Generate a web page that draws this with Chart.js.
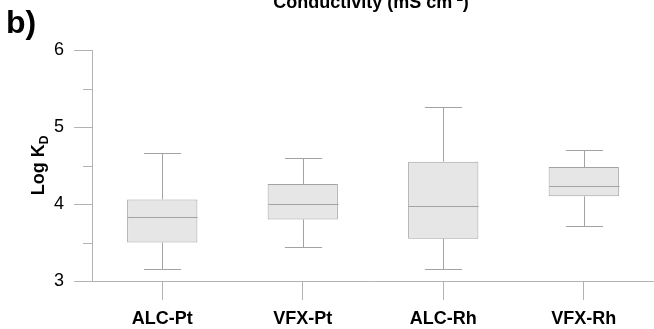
<!DOCTYPE html>
<html>
<head>
<meta charset="utf-8">
<script src="https://cdn.jsdelivr.net/npm/chart.js@4.4.1/dist/chart.umd.min.js"></script>
<style>
html,body{margin:0;padding:0;background:#fff;}
#wrap{width:654px;height:329px;position:relative;}
</style>
</head>
<body>
<div id="wrap"><canvas id="c" width="654" height="329"></canvas></div>
<script>
const categories = ['ALC-Pt', 'VFX-Pt', 'ALC-Rh', 'VFX-Rh'];
const whiskerLow  = [3.16, 3.44, 3.16, 3.71];
const q1          = [3.50, 3.80, 3.55, 4.10];
const median      = [3.83, 4.00, 3.97, 4.24];
const q3          = [4.06, 4.26, 4.55, 4.48];
const whiskerHigh = [4.66, 4.60, 5.26, 4.70];
const yTicks = [3, 4, 5, 6];
const yMinorTicks = [3.5, 4.5, 5.5];

const FONT = '"Liberation Sans", Arial, sans-serif';
const AXIS = '#b3b3b3';
const BOX_LINE = '#a3a3a3';

const boxPlugin = {
  id: 'boxExtras',
  afterDatasetsDraw(chart) {
    const ctx = chart.ctx;
    const x = chart.scales.x, y = chart.scales.y;
    const meta = chart.getDatasetMeta(0);
    ctx.save();
    ctx.strokeStyle = BOX_LINE;
    ctx.lineWidth = 1;
    categories.forEach((c, i) => {
      const cx = Math.round(x.getPixelForValue(i)) + 0.5;
      const bar = meta.data[i];
      const half = bar.width / 2;
      const cap = half * 0.53;
      const yl = Math.round(y.getPixelForValue(whiskerLow[i])) + 0.5;
      const y1 = y.getPixelForValue(q1[i]);
      const ym = Math.round(y.getPixelForValue(median[i])) + 0.5;
      const y3 = y.getPixelForValue(q3[i]);
      const yh = Math.round(y.getPixelForValue(whiskerHigh[i])) + 0.5;
      ctx.beginPath();
      ctx.moveTo(cx, y3); ctx.lineTo(cx, yh);
      ctx.moveTo(cx - cap, yh); ctx.lineTo(cx + cap, yh);
      ctx.moveTo(cx, y1); ctx.lineTo(cx, yl);
      ctx.moveTo(cx - cap, yl); ctx.lineTo(cx + cap, yl);
      ctx.moveTo(cx - half, ym); ctx.lineTo(cx + half, ym);
      ctx.stroke();
    });
    // minor y ticks
    ctx.strokeStyle = AXIS;
    ctx.beginPath();
    yMinorTicks.forEach(v => {
      const py = Math.round(y.getPixelForValue(v)) + 0.5;
      ctx.moveTo(chart.chartArea.left - 9, py);
      ctx.lineTo(chart.chartArea.left, py);
    });
    ctx.stroke();
    ctx.restore();
  },
  afterDraw(chart) {
    const ctx = chart.ctx;
    const area = chart.chartArea;
    ctx.save();
    ctx.fillStyle = '#000';
    // panel letter
    ctx.font = 'bold 32px ' + FONT;
    ctx.textBaseline = 'alphabetic';
    ctx.textAlign = 'left';
    ctx.fillText('b)', 6, 33);
    // title with superscript
    const t1 = 'Conductivity (mS cm', sup = '-1', t2 = ')';
    ctx.font = 'bold 18px ' + FONT;
    const w1 = ctx.measureText(t1).width, w3 = ctx.measureText(t2).width;
    ctx.font = 'bold 12px ' + FONT;
    const w2 = ctx.measureText(sup).width;
    const total = w1 + w2 + w3;
    let sx = (area.left + area.right) / 2 - total / 2 - 2;
    const by = 8;
    ctx.font = 'bold 18px ' + FONT;
    ctx.fillText(t1, sx, by); sx += w1;
    ctx.font = 'bold 12px ' + FONT;
    ctx.fillText(sup, sx, by - 7); sx += w2;
    ctx.font = 'bold 18px ' + FONT;
    ctx.fillText(t2, sx, by);
    // y axis title: Log K_D
    const cy = (area.top + area.bottom) / 2;
    ctx.translate(44, cy);
    ctx.rotate(-Math.PI / 2);
    const a = 'Log K', d = 'D';
    ctx.font = 'bold 18px ' + FONT;
    const wa = ctx.measureText(a).width;
    ctx.font = 'bold 12px ' + FONT;
    const wd = ctx.measureText(d).width;
    let px = -(wa + wd) / 2;
    ctx.font = 'bold 18px ' + FONT;
    ctx.fillText(a, px, 0);
    ctx.font = 'bold 12px ' + FONT;
    ctx.fillText(d, px + wa, 4);
    ctx.restore();
  }
};

new Chart(document.getElementById('c'), {
  type: 'bar',
  data: {
    labels: categories,
    datasets: [{
      data: categories.map((c, i) => [q1[i], q3[i]]),
      backgroundColor: '#e6e6e6',
      borderColor: BOX_LINE,
      borderWidth: 1,
      borderSkipped: false,
      barPercentage: 0.5,
      categoryPercentage: 1.0
    }]
  },
  options: {
    responsive: false,
    animation: false,
    layout: { padding: { top: 50, left: 0, right: 0, bottom: 0 } },
    plugins: { legend: { display: false }, tooltip: { enabled: false }, title: { display: false } },
    scales: {
      x: {
        offset: true,
        grid: { offset: false, drawOnChartArea: false, color: AXIS, tickLength: 19, lineWidth: 1 },
        border: { color: AXIS, width: 1 },
        ticks: { color: '#000', font: { family: FONT, size: 18, weight: 'bold' }, padding: 8, maxRotation: 0 },
        afterFit(s) { s.height = 48; }
      },
      y: {
        min: 3, max: 6,
        afterBuildTicks(s) { s.ticks = yTicks.map(v => ({ value: v })); },
        grid: { drawOnChartArea: false, color: AXIS, tickLength: 18, lineWidth: 1 },
        border: { color: AXIS, width: 1 },
        ticks: { color: '#000', font: { family: FONT, size: 18 }, padding: 10 },
        afterFit(s) { s.width = 92; }
      }
    }
  },
  plugins: [boxPlugin]
});
</script>
</body>
</html>
